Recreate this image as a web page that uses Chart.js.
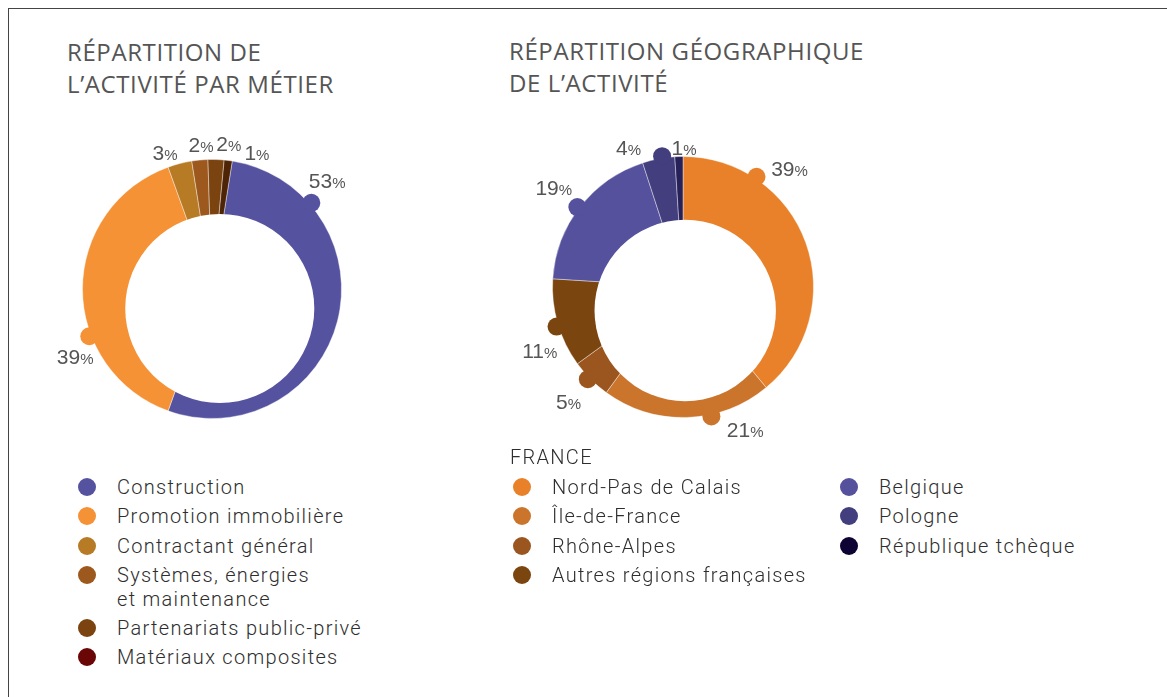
<!DOCTYPE html>
<html>
<head>
<meta charset="utf-8">
<script src="https://cdn.jsdelivr.net/npm/chart.js@4.4.1/dist/chart.umd.min.js"></script>
<style>
  body { margin:0; background:#fff; width:1167px; height:697px; overflow:hidden; position:relative; font-family:'Roboto', sans-serif; }
  .frame { position:absolute; left:8px; top:8px; right:0; bottom:0; border-top:1px solid #444; border-left:1px solid #444; }
  .title { position:absolute; margin:0; font-family:'Open Sans', sans-serif; font-weight:400; font-size:24px; line-height:32px; color:#555; text-transform:uppercase; letter-spacing:0.6px; }
  .box { position:absolute; }
  .legend { position:absolute; list-style:none; margin:0; padding:0; font-size:20px; font-weight:300; letter-spacing:1.3px; color:#2e2e2e; }
  .legend li { display:flex; align-items:flex-start; line-height:24px; margin-bottom:5.3px; white-space:pre-line; }
  .legend .dot { flex:none; width:18px; height:18px; border-radius:50%; margin-top:3px; margin-right:21px; }
  .head { position:absolute; font-size:20px; font-weight:300; letter-spacing:1.3px; color:#2e2e2e; line-height:24px; }
</style>
</head>
<body>
<div class="frame"></div>
<h2 class="title" style="left:67px; top:36px;">Répartition de<br>l’activité par métier</h2>
<h2 class="title" style="left:509px; top:35px;">Répartition géographique<br>de l’activité</h2>
<div class="box" style="left:42px; top:119px;"><canvas id="metier" width="340" height="340"></canvas></div>
<div class="box" style="left:512px; top:116px;"><canvas id="geo" width="342" height="342"></canvas></div>
<ul class="legend" id="leg1" style="left:78px; top:475px;"></ul>
<div class="head" style="left:510px; top:445px;">FRANCE</div>
<ul class="legend" id="leg2a" style="left:513px; top:475px;"></ul>
<ul class="legend" id="leg2b" style="left:840px; top:475px;"></ul>
<script>
const metierLabels = ['Construction', 'Promotion immobilière', 'Contractant général', 'Systèmes, énergies\net maintenance', 'Partenariats public-privé', 'Matériaux composites'];
const metierValues = [53, 39, 3, 2, 2, 1];
const metierColors = ['#5552a0', '#f59235', '#b77a25', '#9c581d', '#7b430f', '#4e2406'];
const metierLegendColors = ['#5552a0', '#f59235', '#b77a25', '#9c581d', '#7b430f', '#6b0606'];

const geoLabels = ['Nord-Pas de Calais', 'Île-de-France', 'Rhône-Alpes', 'Autres régions françaises', 'Belgique', 'Pologne', 'République tchèque'];
const geoValues = [39, 21, 5, 11, 19, 4, 1];
const geoColors = ['#e8812a', '#cb752c', '#9a561e', '#7b450f', '#55519c', '#433e7e', '#27215a'];
const geoLegendColors = ['#e8812a', '#cb752c', '#9a561e', '#7b450f', '#55519c', '#433e7e', '#0e0434'];
const geoFranceCount = 4;

// decoration: offset hole, bubble markers, percentage labels
const ringDecor = {
  id: 'ringDecor',
  afterDatasetsDraw(chart, args, opts) {
    const ctx = chart.ctx;
    const meta = chart.getDatasetMeta(0);
    const vals = chart.data.datasets[0].data;
    const { x, y, outerRadius: R } = meta.data[0].getProps(['x', 'y', 'outerRadius'], true);
    ctx.save();
    meta.data.forEach((arc, i) => {
      const f = opts.markers[i];
      if (f == null) return;
      const p = arc.getProps(['startAngle', 'endAngle'], true);
      const a = p.startAngle + (p.endAngle - p.startAngle) * f;
      ctx.fillStyle = arc.options.backgroundColor;
      ctx.beginPath();
      ctx.arc(x + Math.cos(a) * (R + 2), y + Math.sin(a) * (R + 2), 9, 0, Math.PI * 2);
      ctx.fill();
    });
    ctx.fillStyle = '#fff';
    ctx.beginPath();
    ctx.arc(x + opts.hole[0] * R, y + opts.hole[1] * R, opts.hole[2] * R, 0, Math.PI * 2);
    ctx.fill();
    ctx.fillStyle = '#555';
    ctx.textBaseline = 'alphabetic';
    meta.data.forEach((arc, i) => {
      const [deg, k] = opts.labelPos[i];
      const a = (deg - 90) * Math.PI / 180;
      const lx = x + Math.cos(a) * R * k, ly = y + Math.sin(a) * R * k;
      const num = String(vals[i]);
      ctx.font = '21px "Liberation Sans"';
      const w1 = ctx.measureText(num).width;
      ctx.font = '15px "Liberation Sans"';
      const w2 = ctx.measureText('%').width;
      const sx = lx - (w1 + w2) / 2, base = ly + 7.5;
      ctx.font = '21px "Liberation Sans"';
      ctx.fillText(num, sx, base);
      ctx.font = '15px "Liberation Sans"';
      ctx.fillText('%', sx + w1, base);
    });
    ctx.restore();
  }
};

function ring(id, labels, values, colors, rotation, decor) {
  return new Chart(document.getElementById(id), {
    type: 'doughnut',
    data: { labels, datasets: [{ data: values, backgroundColor: colors, borderColor: 'rgba(255,255,255,0.4)', borderWidth: 1 }] },
    options: {
      responsive: false, animation: false, events: [], cutout: 0, rotation,
      layout: { padding: 40 },
      plugins: { legend: { display: false }, tooltip: { enabled: false }, ringDecor: decor }
    },
    plugins: [ringDecor]
  });
}

ring('metier', metierLabels, metierValues, metierColors, 9, {
  hole: [0.06, 0.15, 0.73],
  markers: [0.21, 0.35, null, null, null, null],
  labelPos: [[46.8, 1.22], [243.6, 1.18], [341, 1.115], [355.7, 1.12], [6.6, 1.13], [18.2, 1.11]]
});
ring('geo', geoLabels, geoValues, geoColors, 0, {
  hole: [0.017, 0.18, 0.695],
  markers: [0.24, 0.36, 0.55, 0.47, 0.49, 0.62, null],
  labelPos: [[42, 1.22], [156.4, 1.19], [225, 1.24], [246.2, 1.2], [307.6, 1.25], [338.7, 1.15], [0.4, 1.07]]
});

function fillLegend(listId, labels, colors) {
  const ul = document.getElementById(listId);
  labels.forEach((t, i) => {
    const li = document.createElement('li');
    const dot = document.createElement('span');
    dot.className = 'dot';
    dot.style.background = colors[i];
    li.appendChild(dot);
    li.appendChild(document.createTextNode(t));
    ul.appendChild(li);
  });
}
fillLegend('leg1', metierLabels, metierLegendColors);
fillLegend('leg2a', geoLabels.slice(0, geoFranceCount), geoLegendColors.slice(0, geoFranceCount));
fillLegend('leg2b', geoLabels.slice(geoFranceCount), geoLegendColors.slice(geoFranceCount));
</script>
</body>
</html>
